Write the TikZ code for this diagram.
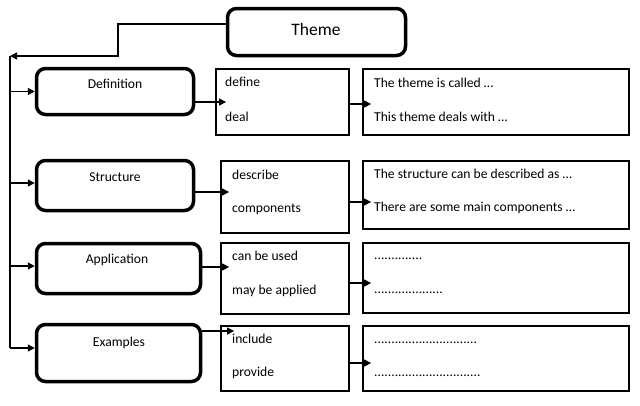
\documentclass[tikz,border=0pt]{standalone}
\usepackage{fontspec}
\setmainfont{Carlito}
\usetikzlibrary{arrows.meta}
\begin{document}
\begin{tikzpicture}[x=1pt,y=-1pt,
  rbox/.style={draw, line width=3.5pt, rounded corners=9pt, inner sep=0pt},
  sbox/.style={draw, line width=1.8pt, inner sep=0pt},
  conn/.style={line width=1.3pt},
  arr/.style={line width=1.3pt, -{Triangle[length=7pt,width=7pt]}},
  lbl/.style={inner sep=0pt, font=\fontsize{13.6}{15}\selectfont},
  txt/.style={inner sep=0pt, anchor=west, font=\fontsize{13.6}{15}\selectfont}]
\useasboundingbox (0,0) rectangle (640,405);
% rounded boxes
\node[rbox, minimum width=178pt, minimum height=47pt] (theme) at (316.5,32) {};
\node[rbox, minimum width=157pt, minimum height=46pt] (def) at (115,91.5) {};
\node[rbox, minimum width=157pt, minimum height=50pt] (str) at (115,185.5) {};
\node[rbox, minimum width=164pt, minimum height=50pt] (app) at (118.5,268.5) {};
\node[rbox, minimum width=164pt, minimum height=57pt] (exa) at (118.5,353) {};
% labels
\node[inner sep=0pt, font=\fontsize{17.5}{20}\selectfont] (themel) at (316,29) {Theme};
\node[lbl] (defl) at (115,84) {Definition};
\node[lbl] (strl) at (115,177) {Structure};
\node[lbl] (appl) at (117,260) {Application};
\node[lbl] (exal) at (119,343) {Examples};
% middle boxes
\node[sbox, minimum width=133pt, minimum height=66pt] (dd) at (282.5,102) {};
\node[sbox, minimum width=128pt, minimum height=72pt] (desc) at (285,197) {};
\node[sbox, minimum width=128pt, minimum height=71pt] (can) at (285,278.5) {};
\node[sbox, minimum width=128pt, minimum height=65pt] (inc) at (285,358.5) {};
% right boxes
\node[sbox, minimum width=266pt, minimum height=66pt] (t1) at (496,102) {};
\node[sbox, minimum width=266pt, minimum height=68pt] (t2) at (496,195) {};
\node[sbox, minimum width=266pt, minimum height=70pt] (t3) at (496,278) {};
\node[sbox, minimum width=266pt, minimum height=65pt] (t4) at (496,358.5) {};
% texts
\node[txt] (w1a) at (225,82) {define};
\node[txt] (w1b) at (225,117) {deal};
\node[txt] (s1a) at (374,83) {The theme is called …};
\node[txt] (s1b) at (374,117) {This theme deals with …};
\node[txt] (w2a) at (232,175) {describe};
\node[txt] (w2b) at (232,209) {components};
\node[txt] (s2a) at (374,174) {The structure can be described as …};
\node[txt] (s2b) at (374,208) {There are some main components …};
\node[txt] (w3a) at (232,256) {can be used};
\node[txt] (w3b) at (232,291) {may be applied};
\node[txt] (s3a) at (374,259) {..............};
\node[txt] (s3b) at (374,293) {....................};
\node[txt] (w4a) at (232,339) {include};
\node[txt] (w4b) at (232,373) {provide};
\node[txt] (s4a) at (374,343) {..............................};
\node[txt] (s4b) at (374,376) {...............................};
% trunk
\coordinate (tA) at (0,24);
\coordinate (bend) at (118,56);
\coordinate (top) at (10,56);
\coordinate (bot) at (10,348);
\draw[arr] (theme.west |- tA) -| (bend) -- (top);
\draw[conn] (top) -- (bot);
\draw[arr] (top |- def.west) -- (def.west);
\draw[arr] ([yshift=2.5pt]top |- str.west) -- ([yshift=2.5pt]str.west);
\draw[arr] ([yshift=2.5pt]top |- app.west) -- ([yshift=2.5pt]app.west);
\draw[arr] (bot) -- (bot -| exa.west);
% row arrows
\draw[arr] ([yshift=-10.5pt]def.east) -- ([xshift=11pt]dd.west);
\draw[arr] ([yshift=-2pt]dd.east) -- ([xshift=9pt,yshift=-2pt]t1.west);
\draw[arr] ([yshift=-6.5pt]str.east) -- ([xshift=9pt,yshift=5pt]desc.west);
\draw[arr] ([yshift=-5pt]desc.east) -- ([xshift=9pt,yshift=-7pt]t2.west);
\draw[arr] ([yshift=1.5pt]app.east) -- ([xshift=9pt,yshift=11.5pt]can.west);
\draw[arr] ([yshift=-4.5pt]can.east) -- ([xshift=9pt,yshift=-5pt]t3.west);
\draw[arr] ([yshift=22pt]exa.east) -- ([xshift=14pt,yshift=27.5pt]inc.west);
\draw[arr] ([yshift=-4.5pt]inc.east) -- ([xshift=9pt,yshift=-4.5pt]t4.west);
\end{tikzpicture}
\end{document}
